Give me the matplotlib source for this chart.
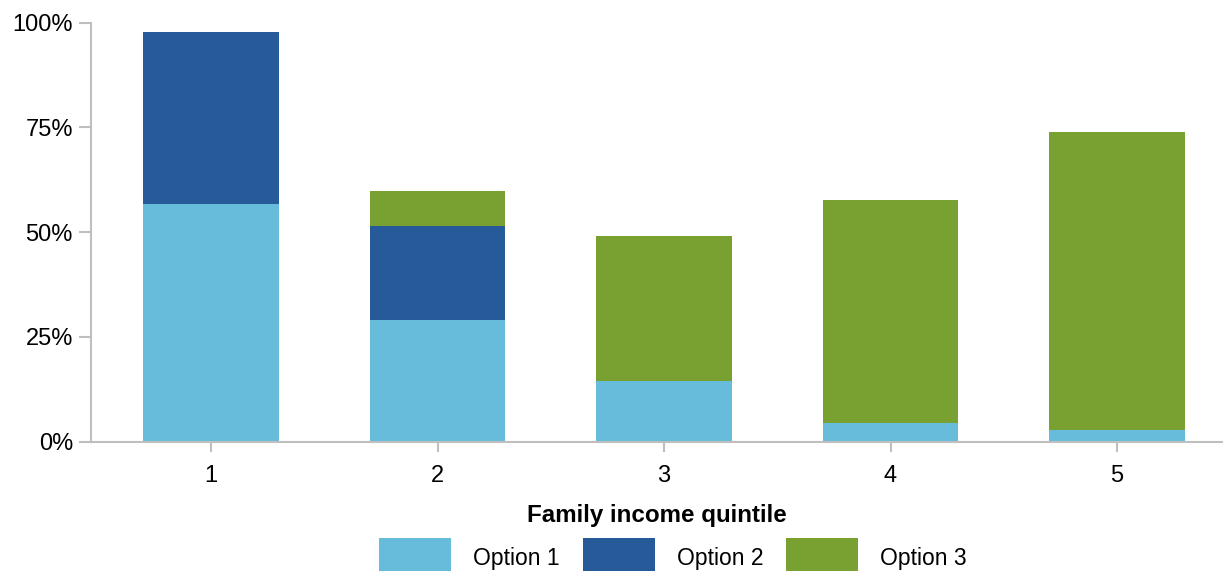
import matplotlib
matplotlib.use("Agg")
import matplotlib.pyplot as plt
import numpy as np

categories = ["1", "2", "3", "4", "5"]
option1 = [56.7, 29.0, 14.5, 4.5, 2.8]
option2 = [41.1, 22.5, 0.0, 0.0, 0.0]
option3 = [0.0, 8.3, 34.6, 53.1, 71.1]
series_names = ["Option 1", "Option 2", "Option 3"]
colors = ["#67BBDB", "#265A99", "#78A132"]
yticks = [0, 25, 50, 75, 100]
ytick_labels = ["0%", "25%", "50%", "75%", "100%"]

plt.rcParams['font.family'] = ['Liberation Sans', 'DejaVu Sans']

fig = plt.figure(figsize=(12.25, 5.71), dpi=100)
ax = fig.add_axes([91/1225, 1 - 441.7/571, (1222-91)/1225, (441.7-22.7)/571])

x = np.arange(1, len(categories) + 1)
bottom = np.zeros(len(categories))
handles = []
for vals, name, c in zip([option1, option2, option3], series_names, colors):
    v = np.array(vals)
    h = ax.bar(x, v, width=0.6, bottom=bottom, color=c, label=name, linewidth=0)
    handles.append(h)
    bottom = bottom + v

ax.set_ylim(0, 100)
ax.set_xlim(1 - 120/226.5, 5 + 105/226.5)
ax.set_yticks(yticks)
ax.set_yticklabels(ytick_labels)
ax.set_xticks(x)
ax.set_xticklabels(categories)

axis_color = "#BFBFBF"
for s in ["top", "right"]:
    ax.spines[s].set_visible(False)
for s in ["left", "bottom"]:
    ax.spines[s].set_color(axis_color)
    ax.spines[s].set_linewidth(1.5)
ax.tick_params(axis="y", colors=axis_color, labelcolor="black", labelsize=17,
               length=9, width=1.5, pad=4)
ax.tick_params(axis="x", colors=axis_color, labelcolor="black", labelsize=17,
               length=7, width=1.5, pad=10)
ax.set_xlabel("Family income quintile", fontsize=17.4, fontweight="bold", labelpad=12)

fig.legend(handles=handles, labels=series_names, loc="upper center",
           bbox_to_anchor=(673/1225, 1 - 522/571), ncol=3, frameon=False,
           fontsize=16.5, handlelength=3.14, handleheight=2.35,
           handletextpad=0.96, columnspacing=1.0, borderpad=0.2)

fig.savefig("out.png", dpi=100)
